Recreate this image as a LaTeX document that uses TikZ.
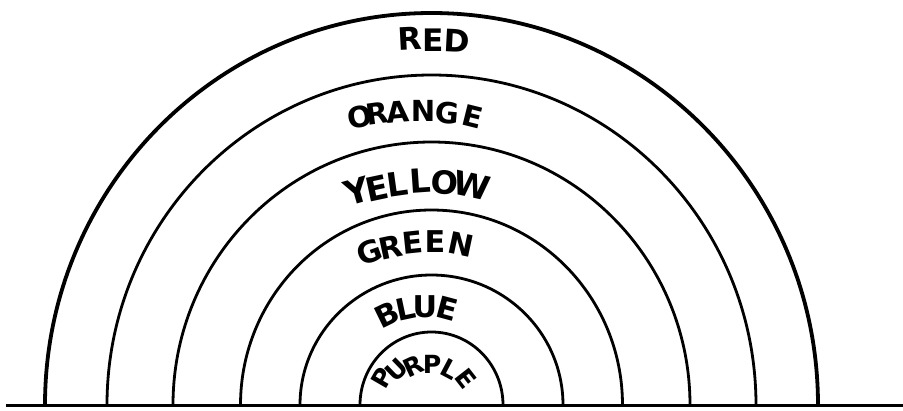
\documentclass[tikz,border=0pt]{standalone}
\usepackage{fontspec}
\setmainfont{DejaVu Sans Condensed}[FakeStretch=1.12]
\begin{document}
\begin{tikzpicture}[x=1pt,y=-1pt,
  band/.style={line width=2.8pt, line cap=round},
  outer/.style={line width=3.8pt, line cap=round},
  lbl/.style={inner sep=0pt, font=\bfseries\fontsize{#1}{#1}\selectfont},
  lbl/.default=29]
\useasboundingbox (0,0) rectangle (903,410);
\coordinate (c) at (431.5,405);
\coordinate (bl) at (6,405);
\coordinate (br) at (903,405);
% arcs
\draw[outer] ([xshift=-386.5pt]c) arc[start angle=180, end angle=360, x radius=386.5, y radius=392];
\draw[band] ([xshift=-324.5pt]c) arc[start angle=180, end angle=360, x radius=324.5, y radius=330];
\draw[band] ([xshift=-258.5pt]c) arc[start angle=180, end angle=360, x radius=258.5, y radius=263];
\draw[band] ([xshift=-191pt]c) arc[start angle=180, end angle=360, x radius=191, y radius=195];
\draw[band] ([xshift=-131.5pt]c) arc[start angle=180, end angle=360, x radius=131.5, y radius=130];
\draw[band] ([xshift=-71.5pt]c) arc[start angle=180, end angle=360, x radius=71.5, y radius=73];
\draw[line width=3pt] (bl) -- (br);
% RED
\node[lbl=31, rotate=3]  (r1) at (410,39) {R};
\node[lbl=31]            (r2) at (433,40) {E};
\node[lbl=31, rotate=-3] (r3) at (457,41) {D};
% ORANGE
\node[lbl=29, rotate=10] (o1) at (360,117) {O};
\node[lbl=29, rotate=8]  (o2) at (377,113) {R};
\node[lbl=29, rotate=5]  (o3) at (398,112) {A};
\node[lbl=29, rotate=0]  (o4) at (423,111) {N};
\node[lbl=29, rotate=-5] (o5) at (447,113) {G};
\node[lbl=29, rotate=-14] (o6) at (473,117) {E};
% YELLOW
\node[lbl=34, rotate=16]  (y1) at (357,191) {Y};
\node[lbl=33, rotate=12]  (y2) at (377,188) {E};
\node[lbl=33, rotate=8]   (y3) at (397,184) {L};
\node[lbl=33, rotate=4]   (y4) at (420,181) {L};
\node[lbl=32, rotate=-3]  (y5) at (445,183) {O};
\node[lbl=33, rotate=-12] (y6) at (472,186) {W};
% GREEN
\node[lbl=30, rotate=20]  (g1) at (369,252) {G};
\node[lbl=30, rotate=12]  (g2) at (391,247) {R};
\node[lbl=30, rotate=6]   (g3) at (413,243) {E};
\node[lbl=30]             (g4) at (435,242) {E};
\node[lbl=30, rotate=-12] (g5) at (461,244) {N};
% BLUE
\node[lbl=30, rotate=26]  (b1) at (387,315) {B};
\node[lbl=30, rotate=12]  (b2) at (406,309) {L};
\node[lbl=30, rotate=0]   (b3) at (425,307) {U};
\node[lbl=30, rotate=-15] (b4) at (447,309) {E};
% PURPLE
\node[lbl=25, rotate=60]  (p1) at (382,378) {P};
\node[lbl=25, rotate=44]  (p2) at (397,370) {U};
\node[lbl=25, rotate=25]  (p3) at (413,366) {R};
\node[lbl=25, rotate=0]   (p4) at (432,364) {P};
\node[lbl=25, rotate=-28] (p5) at (450,369) {L};
\node[lbl=25, rotate=-52] (p6) at (466,379) {E};
\end{tikzpicture}
\end{document}
